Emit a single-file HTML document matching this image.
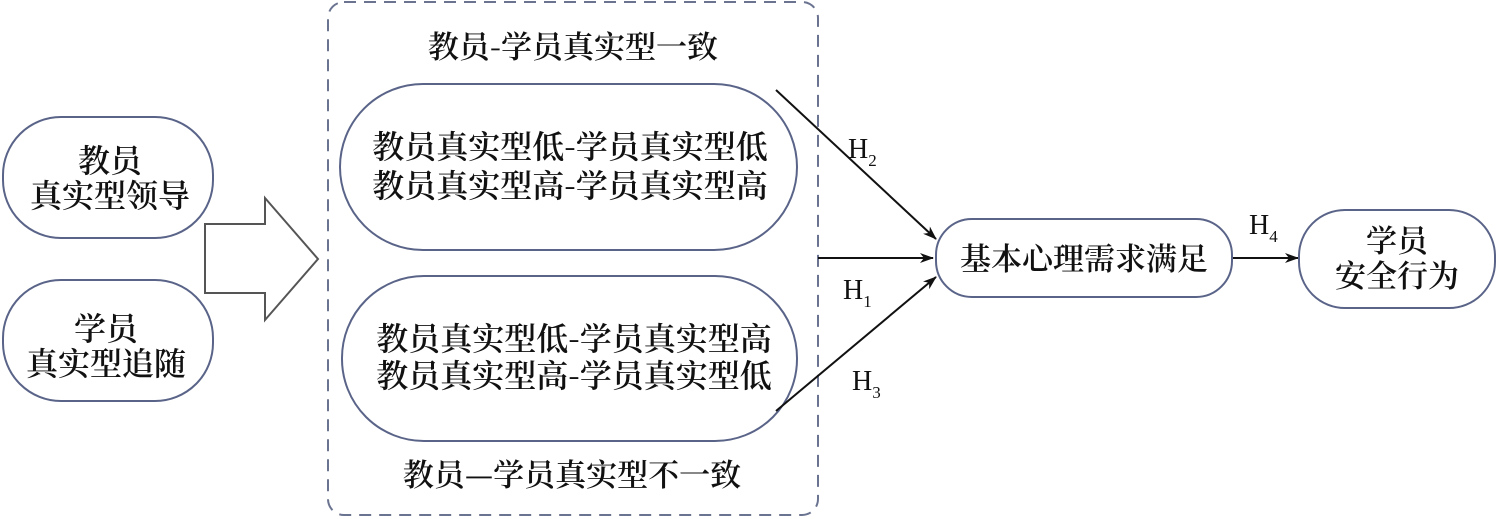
<!DOCTYPE html>
<html><head><meta charset="utf-8"><style>
html,body{margin:0;padding:0;background:#fff;}
svg{display:block;}
text{font-family:"Noto Serif CJK SC","Liberation Serif",serif;fill:#111;font-weight:600;}
text.h{font-family:"Liberation Serif",serif;font-weight:normal;}
</style></head><body>
<svg width="1500" height="519" viewBox="0 0 1500 519" xmlns="http://www.w3.org/2000/svg">
<defs>
<marker id="a" markerWidth="14" markerHeight="10" refX="13" refY="5" orient="auto" markerUnits="userSpaceOnUse">
<path d="M0,0 L14,5 L0,10 L4,5 Z" fill="#111"/>
</marker>
</defs>
<rect x="328" y="2" width="490" height="513" rx="16" fill="none" stroke="#6a7390" stroke-width="2" stroke-dasharray="12,8"/>
<rect x="3" y="117" width="210" height="121" rx="58" fill="#fff" stroke="#5a6488" stroke-width="2"/>
<rect x="3" y="280" width="210" height="121" rx="58" fill="#fff" stroke="#5a6488" stroke-width="2"/>
<text x="110" y="172" font-size="32" text-anchor="middle">教员</text>
<text x="110" y="207" font-size="32" text-anchor="middle">真实型领导</text>
<text x="106" y="340" font-size="32" text-anchor="middle">学员</text>
<text x="106" y="375" font-size="32" text-anchor="middle">真实型追随</text>
<path d="M205,224 L265,224 L265,198 L318,259 L265,320 L265,293 L205,293 Z" fill="#fff" stroke="#555" stroke-width="2"/>
<rect x="340" y="84" width="457" height="166" rx="83" fill="#fff" stroke="#5a6488" stroke-width="2"/>
<rect x="342" y="276" width="455" height="165" rx="82" fill="#fff" stroke="#5a6488" stroke-width="2"/>
<text x="573" y="58" font-size="31" text-anchor="middle">教员-学员真实型一致</text>
<text x="570" y="158" font-size="32" text-anchor="middle">教员真实型低-学员真实型低</text>
<text x="570" y="197" font-size="32" text-anchor="middle">教员真实型高-学员真实型高</text>
<text x="574" y="350" font-size="32" text-anchor="middle">教员真实型低-学员真实型高</text>
<text x="574" y="387" font-size="32" text-anchor="middle">教员真实型高-学员真实型低</text>
<text x="572" y="486" font-size="31" text-anchor="middle">教员—学员真实型不一致</text>
<line x1="776" y1="90" x2="936" y2="239" stroke="#111" stroke-width="2" marker-end="url(#a)"/>
<line x1="818" y1="258" x2="933" y2="258" stroke="#111" stroke-width="2" marker-end="url(#a)"/>
<line x1="776" y1="411" x2="936" y2="277" stroke="#111" stroke-width="2" marker-end="url(#a)"/>
<line x1="1232" y1="258" x2="1298" y2="258" stroke="#111" stroke-width="2" marker-end="url(#a)"/>
<rect x="936" y="219" width="296" height="78" rx="36" fill="#fff" stroke="#5a6488" stroke-width="2"/>
<text x="1084" y="270" font-size="31" text-anchor="middle">基本心理需求满足</text>
<rect x="1299" y="210" width="196" height="98" rx="46" fill="#fff" stroke="#5a6488" stroke-width="2"/>
<text x="1397" y="252" font-size="31" text-anchor="middle">学员</text>
<text x="1397" y="287" font-size="31" text-anchor="middle">安全行为</text>
<text class="h" x="848" y="158" font-size="28">H<tspan font-size="17" dy="8">2</tspan></text>
<text class="h" x="843" y="299" font-size="28">H<tspan font-size="17" dy="8">1</tspan></text>
<text class="h" x="852" y="390" font-size="28">H<tspan font-size="17" dy="8">3</tspan></text>
<text class="h" x="1249" y="234" font-size="28">H<tspan font-size="17" dy="8">4</tspan></text>
</svg>
</body></html>
